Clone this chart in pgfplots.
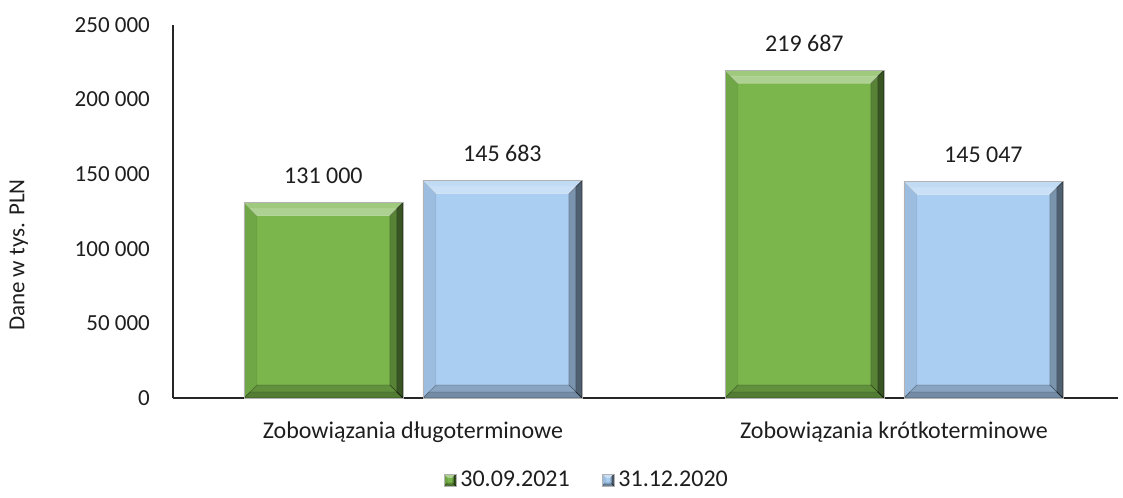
\documentclass[border=0pt]{standalone}
\usepackage{pgfplots}
\pgfplotsset{compat=1.18}
\usepackage{fontspec}
\setmainfont{Carlito}
\definecolor{gfill}{RGB}{122,182,76}
\definecolor{bfill}{RGB}{170,206,242}
\definecolor{txt}{RGB}{30,30,30}
\newcommand{\bvl}{6.5pt}
\newcommand{\bvh}{3pt}
\tikzset{
  nopp/.style={path picture={}},
  bevel/.style={
    path picture={
      \fill[nopp,white,opacity=0.28] (path picture bounding box.north west) -- (path picture bounding box.north east) -- ([xshift=-\bvl,yshift=-\bvl]path picture bounding box.north east) -- ([xshift=\bvl,yshift=-\bvl]path picture bounding box.north west) -- cycle;
      \fill[nopp,white,opacity=0.15] ([xshift=\bvh,yshift=-\bvh]path picture bounding box.north west) -- ([xshift=-\bvh,yshift=-\bvh]path picture bounding box.north east) -- ([xshift=-\bvl,yshift=-\bvl]path picture bounding box.north east) -- ([xshift=\bvl,yshift=-\bvl]path picture bounding box.north west) -- cycle;
      \fill[nopp,black,opacity=0.28] (path picture bounding box.north east) -- (path picture bounding box.south east) -- ([xshift=-\bvl,yshift=\bvl]path picture bounding box.south east) -- ([xshift=-\bvl,yshift=-\bvl]path picture bounding box.north east) -- cycle;
      \fill[nopp,black,opacity=0.35] (path picture bounding box.north east) -- (path picture bounding box.south east) -- ([xshift=-\bvh,yshift=\bvh]path picture bounding box.south east) -- ([xshift=-\bvh,yshift=-\bvh]path picture bounding box.north east) -- cycle;
      \fill[nopp,black,opacity=0.20] (path picture bounding box.south west) -- (path picture bounding box.south east) -- ([xshift=-\bvl,yshift=\bvl]path picture bounding box.south east) -- ([xshift=\bvl,yshift=\bvl]path picture bounding box.south west) -- cycle;
      \fill[nopp,black,opacity=0.15] (path picture bounding box.south west) -- (path picture bounding box.south east) -- ([xshift=-\bvh,yshift=\bvh]path picture bounding box.south east) -- ([xshift=\bvh,yshift=\bvh]path picture bounding box.south west) -- cycle;
      \fill[nopp,black,opacity=0.08] (path picture bounding box.north west) -- (path picture bounding box.south west) -- ([xshift=\bvl,yshift=\bvl]path picture bounding box.south west) -- ([xshift=\bvl,yshift=-\bvl]path picture bounding box.north west) -- cycle;
    }
  },
  gbar/.style={fill=gfill, draw=black!30, line width=0.3pt, bevel, bar shift=-44.75pt},
  bbar/.style={fill=bfill, draw=black!30, line width=0.3pt, bevel, bar shift=44.75pt},
}
\begin{document}
\begin{tikzpicture}
\begin{axis}[
  width=472.5pt, height=186.5pt,
  scale only axis,
  ybar,
  bar width=79.5pt,
  xmin=-0.499, xmax=1.466,
  ymin=0, ymax=250000,
  ytick={0,50000,100000,150000,200000,250000},
  yticklabels={0,50 000,100 000,150 000,200 000,250 000},
  scaled y ticks=false,
  xtick={0,1},
  xticklabels={Zobowiązania długoterminowe,Zobowiązania krótkoterminowe},
  axis x line=bottom, axis y line=left,
  axis line style={-, black!85, line width=0.8pt},
  major tick length=0pt,
  tick style={draw=none},
  yticklabel style={font=\fontsize{11.5}{13}\selectfont, text=txt, xshift=-8pt},
  xticklabel style={font=\fontsize{12}{14}\selectfont, text=txt, yshift=-8.5pt},
  clip=false,
  point meta=explicit symbolic,
  nodes near coords,
  nodes near coords style={nopp, font=\fontsize{12}{14}\selectfont, text=txt, yshift=6pt},
  legend style={at={(rel axis cs:0.439,-0.22)}, anchor=center, draw=none, legend columns=2, font=\fontsize{12}{14}\selectfont, text=txt, /tikz/every even column/.append style={column sep=14pt}},
  legend image code/.code={\renewcommand{\bvl}{1.6pt}\renewcommand{\bvh}{0.8pt}\draw[#1] (0pt,-3pt) rectangle (6pt,3pt);},
]
\addplot[gbar] coordinates {(0,131000) [131 000]};
\addlegendentry{30.09.2021}
\addplot[bbar] coordinates {(0,145683) [145 683]};
\addlegendentry{31.12.2020}
\addplot[gbar, forget plot] coordinates {(1,219687) [219 687]};
\addplot[bbar, forget plot] coordinates {(1,145047) [145 047]};
\node[rotate=90, font=\fontsize{11.5}{13}\selectfont, text=txt] at (rel axis cs:-0.163,0.383) {Dane w tys. PLN};
\path[draw=none] (rel axis cs:-0.183,-0.252) rectangle (rel axis cs:1.0053,1.067);
\end{axis}
\end{tikzpicture}
\end{document}
